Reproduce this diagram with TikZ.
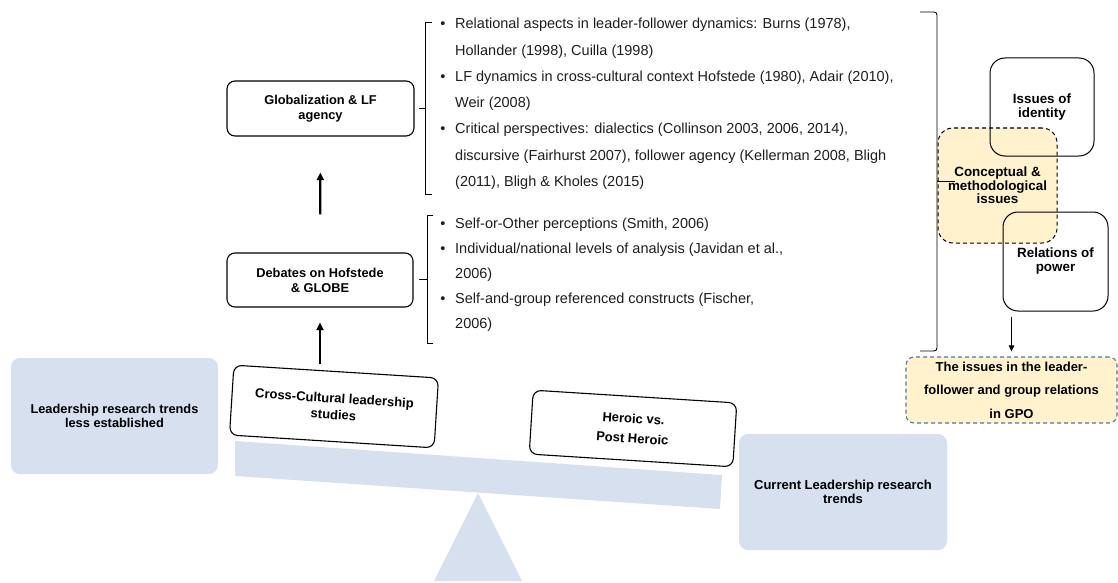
\documentclass[tikz,border=0pt]{standalone}
\usepackage{fontspec}
\setmainfont{Liberation Sans}
\usetikzlibrary{arrows.meta}
\definecolor{paleblue}{RGB}{214,224,238}
\definecolor{paleyellow}{RGB}{255,242,204}
\definecolor{dashblue}{RGB}{80,118,170}
\definecolor{notetext}{RGB}{30,30,30}

\begin{document}
\begin{tikzpicture}[x=1pt,y=-1pt,
  trend/.style={fill=paleblue, rounded corners=9pt, align=center, inner sep=0pt,
    font=\bfseries\fontsize{12.8}{14.5}\selectfont},
  topic/.style={draw=black, line width=1.1pt, rounded corners=8pt, align=center,
    inner sep=0pt, font=\bfseries\fontsize{12.8}{15}\selectfont},
  issue/.style={draw=black, line width=1pt, rounded corners=15pt, align=center,
    inner sep=0pt, minimum width=104pt, minimum height=98pt,
    font=\bfseries\fontsize{13.4}{14}\selectfont},
  concept/.style={draw=black, line width=1pt, dash pattern=on 4pt off 3pt,
    fill=paleyellow, rounded corners=15pt, align=center, inner sep=0pt,
    minimum width=119pt, minimum height=115pt,
    font=\bfseries\fontsize{13.4}{13.5}\selectfont},
  outcome/.style={draw=dashblue, line width=1.1pt, dash pattern=on 4pt off 3pt,
    fill=paleyellow, rounded corners=8pt, align=center, inner sep=0pt,
    minimum width=211pt, minimum height=66pt,
    font=\bfseries\fontsize{13}{23.5}\selectfont},
  note/.style={anchor=base west, inner sep=0pt, text=notetext,
    font=\fontsize{14.5}{17}\selectfont},
  dot/.style={anchor=base, inner sep=0pt, text=notetext,
    font=\fontsize{14.5}{17}\selectfont},
  uparrow/.style={line width=2.3pt, -{Triangle[length=7.5pt,width=7pt]}},
  thinarrow/.style={line width=0.9pt, -{Triangle[length=6pt,width=5.5pt]}},
  bracket/.style={line width=0.9pt}
]
\useasboundingbox (0,0) rectangle (1118,583);

% seesaw: beam and fulcrum
\fill[paleblue] (235,441) -- (722,475) -- (720,509) -- (235,476) -- cycle;
\fill[paleblue] (478,493) -- (522,581) -- (434,581) -- cycle;

% the two ends of the seesaw
\node[trend, minimum width=207pt, minimum height=116pt] (less) at (114.5,416)
  {Leadership research trends\\less established};
\node[trend, minimum width=208pt, minimum height=116pt,
  font=\bfseries\fontsize{13}{14.5}\selectfont] (current) at (843,492)
  {Current Leadership research\\trends};

% boxes resting on the beam
\node[topic, rotate=-3.6, minimum width=205pt, minimum height=70pt,
  font=\bfseries\fontsize{13}{16.5}\selectfont] (cross) at (334,406.5)
  {Cross-Cultural leadership\\studies};
\node[topic, rotate=-3.6, minimum width=204pt, minimum height=64pt,
  font=\bfseries\fontsize{13}{20}\selectfont] (heroic) at (633,428.5)
  {Heroic vs.\\Post Heroic};

% stacked themes
\node[topic, minimum width=186pt, minimum height=54pt] (debates) at (320,280)
  {Debates on Hofstede\\\& GLOBE};
\node[topic, minimum width=187pt, minimum height=55pt] (glob) at (320.5,108.5)
  {Globalization \& LF\\agency};

\draw[uparrow, shorten <=6.6pt, shorten >=15pt]
  (debates.south |- cross.north) -- (debates.south);
\draw[uparrow, shorten <=38pt, shorten >=36pt]
  (debates.north) -- (glob.south);

% bracket and notes for the globalization theme
\draw[bracket] (432,22) -- (425,22) -- (425,194) -- (432,194);
\draw[bracket] (425,108) -- (419,108);
\node[dot] (gb1) at (443,29) {•};
\node[note] (g1) at (455,29) {Relational aspects in leader-follower dynamics: Burns (1978),};
\node[note] (g2) at (455,55.2) {Hollander (1998), Cuilla (1998)};
\node[dot] (gb2) at (443,81.4) {•};
\node[note] (g3) at (455,81.4) {LF dynamics in cross-cultural context Hofstede (1980), Adair (2010),};
\node[note] (g4) at (455,107.6) {Weir (2008)};
\node[dot] (gb3) at (443,133.8) {•};
\node[note] (g5) at (455,133.8) {Critical perspectives: dialectics (Collinson 2003, 2006, 2014),};
\node[note] (g6) at (455,160) {discursive (Fairhurst 2007), follower agency (Kellerman 2008, Bligh};
\node[note] (g7) at (455,186.2) {(2011), Bligh \& Kholes (2015)};

% bracket and notes for the Hofstede/GLOBE theme
\draw[bracket] (433,215) -- (427,215) -- (427,343) -- (433,343);
\draw[bracket] (427,279) -- (419,279);
\node[dot] (db1) at (443,228) {•};
\node[note] (d1) at (455,228) {Self-or-Other perceptions (Smith, 2006)};
\node[dot] (db2) at (443,253) {•};
\node[note] (d2) at (455,253) {Individual/national levels of analysis (Javidan et al.,};
\node[note] (d3) at (455,278) {2006)};
\node[dot] (db3) at (443,303) {•};
\node[note] (d4) at (455,303) {Self-and-group referenced constructs (Fischer,};
\node[note] (d5) at (455,328) {2006)};

% issues cluster on the right
\node[concept] (concept) at (997.5,185.5) {};
\node[issue] (identity) at (1042,107) {Issues of\\identity};
\node[issue, minimum width=105pt, minimum height=99pt] (relations) at (1055.5,261.5)
  {Relations of\\power};
\node[inner sep=0pt, align=center, font=\bfseries\fontsize{13.4}{13.5}\selectfont]
  (concepttext) at (concept.center) {Conceptual \&\\methodological\\issues};

% closing bracket gathering both themes
\draw[bracket, rounded corners=3pt] (920,12) -- (937,12) -- (937,351) -- (920,351);
\draw[bracket] (937,181) -- (955,181);

\node[outcome] (gpo) at (1011.5,390)
  {The issues in the leader-\\follower and group relations\\in GPO};
\draw[thinarrow, shorten <=5pt, shorten >=5pt]
  (gpo.north |- relations.south) -- (gpo.north);
\end{tikzpicture}
\end{document}
